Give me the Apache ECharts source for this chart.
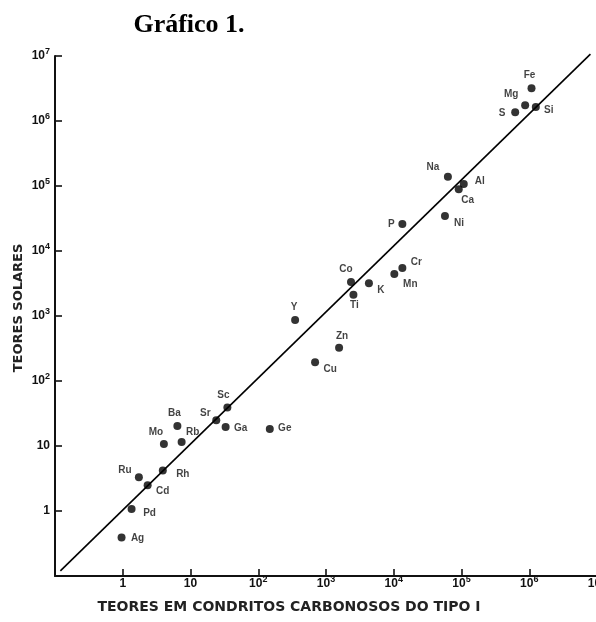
<!DOCTYPE html>
<html>
<head>
<meta charset="utf-8">
<script src="https://cdn.jsdelivr.net/npm/echarts@6/dist/echarts.min.js"></script>
<style>
html,body{margin:0;padding:0;background:#fff;}
#chart{width:596px;height:622px;}
</style>
</head>
<body>
<div id="chart"></div>
<script>
// ---- data ----
const elements  = ['Fe','Mg','S','Si','Na','Al','Ca','Ni','P','Co','Ti','K','Mn','Cr','Y','Zn','Cu','Sc','Sr','Ga','Ge','Ba','Mo','Rb','Rh','Ru','Cd','Pd','Ag'];
const chondrite = [1.08e6, 8.7e5, 6.2e5, 1.25e6, 6.3e4, 1.08e5, 9.1e4, 5.7e4, 1.34e4, 2340, 2540, 4300, 1.02e4, 1.34e4, 350, 1560, 690, 35, 24, 33, 148, 6.4, 4.05, 7.4, 3.9, 1.73, 2.33, 1.35, 0.96];
const solar     = [3.2e6, 1.75e6, 1.36e6, 1.64e6, 1.39e5, 1.07e5, 8.9e4, 3.45e4, 2.6e4, 3330, 2130, 3190, 4430, 5480, 870, 325, 194, 39, 25, 19.6, 18.3, 20.3, 10.7, 11.5, 4.2, 3.3, 2.5, 1.07, 0.39];
const lineX = [0.12, 8e6];
const lineY = [0.12, 1.07e7];
const axisMin = 0.1, axisMax = 1e7;
const titleText = 'Gráfico 1.';
const xName = 'TEORES EM CONDRITOS CARBONOSOS DO TIPO I';
const yName = 'TEORES SOLARES';

// ---- label placement (style) ----
const labelOffset = {
  Fe:[-2,-13], Mg:[-14,-11], S:[-13,1], Si:[13,3], Na:[-15,-9], Al:[16,-3], Ca:[9,11], Ni:[14,7], P:[-11,0],
  Co:[-5,-13], Ti:[1,11], K:[12,7], Mn:[16,10], Cr:[14,-6], Y:[-1,-13], Zn:[3,-11], Cu:[15,7],
  Sc:[-4,-12], Sr:[-11,-7], Ga:[15,1], Ge:[15,-1], Ba:[-3,-13], Mo:[-8,-12], Rb:[11,-10],
  Rh:[20,4], Ru:[-14,-7], Cd:[15,6], Pd:[18,4], Ag:[16,1]
};

const chart = echarts.init(document.getElementById('chart'), null, {renderer:'canvas'});

const pts = elements.map((el, i) => ({ name: el, value: [chondrite[i], solar[i]] }));

const tickFont = 'Liberation Sans';
function fmtX(v){
  const e = Math.round(Math.log10(v));
  if (e < 0) return '';
  if (e === 0) return '{p|1}';
  if (e === 1) return '{p|10}';
  return '{b|10}{s|' + e + '}';
}
function fmtY(v){
  const e = Math.round(Math.log10(v));
  if (e < 0) return '';
  if (e === 0) return '{b|1}';
  if (e === 1) return '{b|10}';
  return '{b|10}{s|' + e + '}';
}
const richX = {
  p: {fontFamily: tickFont, fontWeight:'bold', fontSize: 12, lineHeight: 12, color:'#111', padding:[3,0,0,0], verticalAlign:'bottom'},
  b: {fontFamily: tickFont, fontWeight:'bold', fontSize: 12, lineHeight: 12, color:'#111', verticalAlign:'bottom'},
  s: {fontFamily: tickFont, fontWeight:'bold', fontSize: 9, lineHeight: 9, color:'#111', padding:[0,0,6,0], verticalAlign:'bottom'}
};
const richY = {
  b: {fontFamily: tickFont, fontWeight:'bold', fontSize: 12, lineHeight: 12, color:'#111', verticalAlign:'bottom'},
  s: {fontFamily: tickFont, fontWeight:'bold', fontSize: 9, lineHeight: 9, color:'#111', padding:[0,0,6,0], verticalAlign:'bottom'}
};

const axisCommon = {
  type: 'log', logBase: 10, min: axisMin, max: axisMax, splitNumber: 8, interval: 1,
  axisLine: {show: true, onZero: false, lineStyle: {color:'#111', width: 2}},
  axisTick: {show: true, inside: true, length: 7, lineStyle: {color:'#111', width: 1.6}},
  splitLine: {show: false},
  minorTick: {show: false}
};

chart.setOption({
  animation: false,
  backgroundColor: '#ffffff',
  grid: {left: 55, top: 56, right: -1, bottom: 46, containLabel: false, outerBoundsMode: 'none'},
  xAxis: Object.assign({}, axisCommon, {
    axisLabel: {margin: 2, formatter: fmtX, rich: richX, showMaxLabel: true, showMinLabel: true}
  }),
  yAxis: Object.assign({}, axisCommon, {
    axisLabel: {margin: 5, formatter: fmtY, rich: richY, showMaxLabel: true}
  }),
  graphic: [
    {type:'text', x: 189, y: 25, style:{text: titleText, font:'bold 26px "Liberation Serif", "Times New Roman", serif', fill:'#000', align:'center', verticalAlign:'middle'}},
    {type:'text', x: 289, y: 607, style:{text: xName, font:'bold 14px "DejaVu Sans", sans-serif', fill:'#222', align:'center', verticalAlign:'middle'}},
    {type:'text', x: 19, y: 308, rotation: Math.PI/2, style:{text: yName, font:'bold 13px "DejaVu Sans", sans-serif', fill:'#222', align:'center', verticalAlign:'middle'}}
  ],
  series: [
    {
      type: 'line',
      data: lineX.map((x, i) => [x, lineY[i]]),
      showSymbol: false, symbol: 'none', clip: false,
      lineStyle: {color:'#000', width: 1.6},
      silent: true, z: 2
    },
    {
      type: 'scatter',
      data: pts,
      symbol: 'circle', symbolSize: 8,
      itemStyle: {color:'#000'},
      label: {
        show: true, position: 'inside', formatter: p => p.name,
        fontFamily: 'Liberation Sans', fontWeight: 'bold', fontSize: 10, color: '#111',
        align: 'center', verticalAlign: 'middle'
      },
      labelLayout: function (params) {
        const o = labelOffset[elements[params.dataIndex]] || [12, 0];
        return { dx: o[0], dy: o[1], hideOverlap: false };
      },
      z: 3
    }
  ]
});
</script>
</body>
</html>
